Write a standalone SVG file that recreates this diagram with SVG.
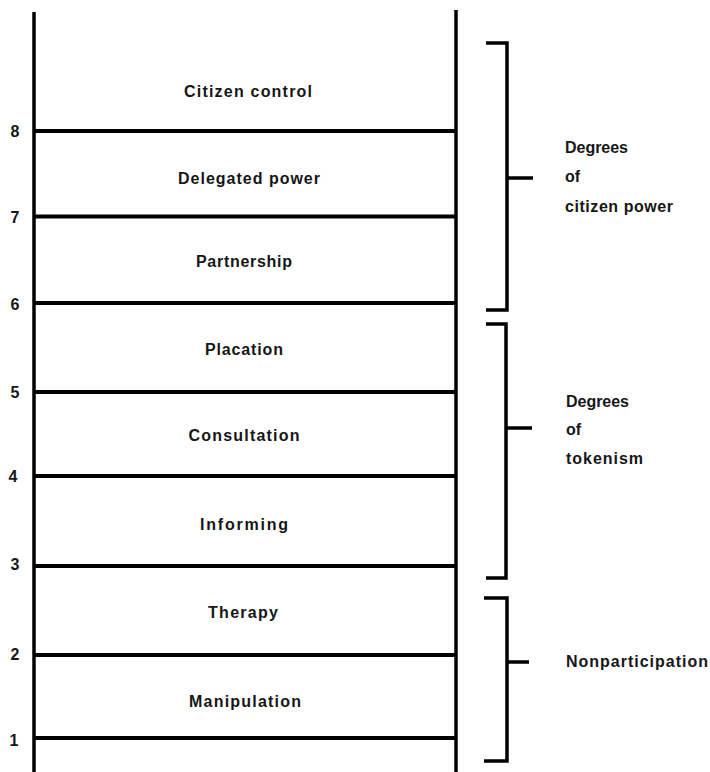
<svg xmlns="http://www.w3.org/2000/svg" width="710" height="772" viewBox="0 0 710 772">
<style>
.rail{stroke:#000;stroke-width:3.5;fill:none}
.rung{stroke:#000;stroke-width:4;fill:none}
.br{stroke:#000;stroke-width:3.5;fill:none;stroke-linejoin:miter}
.lbl{font-family:"Liberation Sans",Arial,sans-serif;font-size:16px;font-weight:bold;fill:#161616;text-anchor:middle}
.num{font-family:"Liberation Sans",Arial,sans-serif;font-size:16px;font-weight:bold;fill:#161616;text-anchor:middle}
.grp{font-family:"Liberation Sans",Arial,sans-serif;font-size:16px;font-weight:bold;fill:#161616}
</style>
<rect width="710" height="772" fill="#fff"/>
<g id="ladder">
<line class="rail" x1="34" y1="12" x2="34" y2="772"/>
<line class="rail" x1="456" y1="10" x2="456" y2="772"/>
<line class="rung" x1="34" y1="131" x2="456" y2="131"/>
<line class="rung" x1="34" y1="216.5" x2="456" y2="216.5"/>
<line class="rung" x1="34" y1="303" x2="456" y2="303"/>
<line class="rung" x1="34" y1="392" x2="456" y2="392"/>
<line class="rung" x1="34" y1="476" x2="456" y2="476"/>
<line class="rung" x1="34" y1="566" x2="456" y2="566"/>
<line class="rung" x1="34" y1="655" x2="456" y2="655"/>
<line class="rung" x1="34" y1="738" x2="456" y2="738"/>
</g>
<g id="numbers">
<text class="num" x="15" y="136.5">8</text>
<text class="num" x="15" y="222.5">7</text>
<text class="num" x="15" y="309.5">6</text>
<text class="num" x="15" y="397.5">5</text>
<text class="num" x="13" y="481.5">4</text>
<text class="num" x="15" y="570">3</text>
<text class="num" x="15" y="660">2</text>
<text class="num" x="14" y="746">1</text>
</g>
<g id="rung-8-citizen-control"><text class="lbl" x="248" y="97" textLength="128" lengthAdjust="spacing">Citizen control</text></g>
<g id="rung-7-delegated-power"><text class="lbl" x="249" y="184" textLength="142" lengthAdjust="spacing">Delegated power</text></g>
<g id="rung-6-partnership"><text class="lbl" x="244" y="267" textLength="96" lengthAdjust="spacing">Partnership</text></g>
<g id="rung-5-placation"><text class="lbl" x="244" y="355" textLength="78" lengthAdjust="spacing">Placation</text></g>
<g id="rung-4-consultation"><text class="lbl" x="244" y="441" textLength="111" lengthAdjust="spacing">Consultation</text></g>
<g id="rung-3-informing"><text class="lbl" x="244" y="530" textLength="88" lengthAdjust="spacing">Informing</text></g>
<g id="rung-2-therapy"><text class="lbl" x="243" y="618" textLength="70" lengthAdjust="spacing">Therapy</text></g>
<g id="rung-1-manipulation"><text class="lbl" x="245" y="707" textLength="112" lengthAdjust="spacing">Manipulation</text></g>
<g id="connectors">
<path class="br" d="M486,43 H507 V310 H486 M507,178 H533"/>
<path class="br" d="M486,324 H506 V578 H486 M506,428 H532"/>
<path class="br" d="M484,598 H507 V761 H484 M507,662 H529"/>
</g>
<g id="group-citizen-power">
<text class="grp" x="565" y="153" textLength="63" lengthAdjust="spacing">Degrees</text>
<text class="grp" x="565" y="182" textLength="15" lengthAdjust="spacing">of</text>
<text class="grp" x="565" y="212" textLength="108" lengthAdjust="spacing">citizen power</text>
</g>
<g id="group-tokenism">
<text class="grp" x="566" y="407" textLength="63" lengthAdjust="spacing">Degrees</text>
<text class="grp" x="566" y="435" textLength="15" lengthAdjust="spacing">of</text>
<text class="grp" x="566" y="464" textLength="77" lengthAdjust="spacing">tokenism</text>
</g>
<g id="group-nonparticipation">
<text class="grp" x="566" y="667" textLength="142" lengthAdjust="spacing">Nonparticipation</text>
</g>
</svg>
